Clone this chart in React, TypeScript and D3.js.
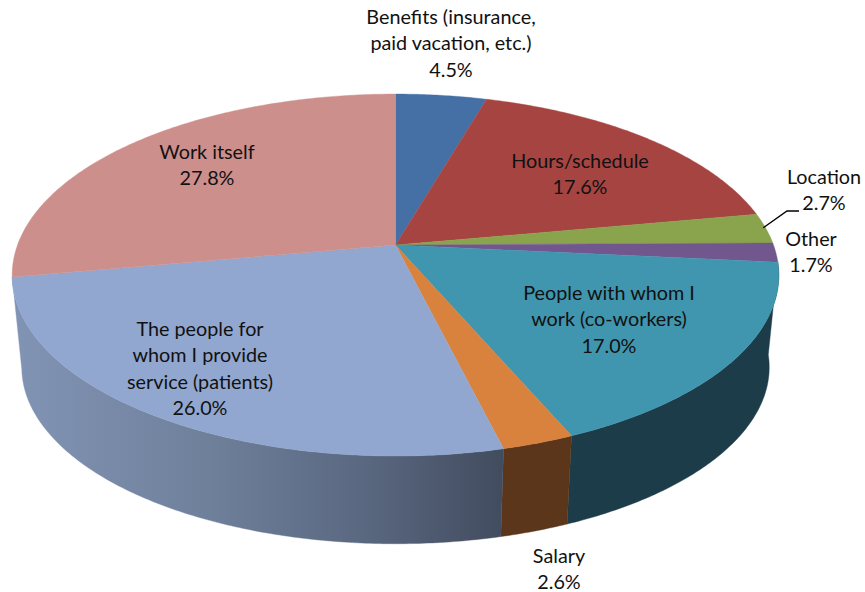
import * as d3 from "d3";

const categories = [
  "Benefits (insurance, paid vacation, etc.)",
  "Hours/schedule",
  "Location",
  "Other",
  "People with whom I work (co-workers)",
  "Salary",
  "The people for whom I provide service (patients)",
  "Work itself",
];
const shares = [4.5, 17.6, 2.7, 1.7, 17.0, 2.6, 26.0, 27.8];
const topColors = ["#4570a5", "#a64442", "#89a44d", "#71578e", "#4096ae", "#d8823d", "#91a7cf", "#cd8f8c"];

// how each label is broken up and where it sits (centre x, first baseline)
const labelLines = [
  ["Benefits (insurance,", "paid vacation, etc.)"],
  ["Hours/schedule"],
  ["Location"],
  ["Other"],
  ["People with whom I", "work (co-workers)"],
  ["Salary"],
  ["The people for", "whom I provide", "service (patients)"],
  ["Work itself"],
];
const labelX = [451, 580, 824, 811, 609, 559, 200, 207];
const labelY = [24, 168, 184, 246, 300, 563, 336, 159];

const width = 865;
const height = 592;
const lineGap = 26.3;

// perspective of the tilted disc
const cx = 395.5;
const topY = 245;
const bottomY = 338;
const rx = 378;
const ry = 176;
const persp = 0.166;
const bottomScale = 0.975;

const project = (angle: number, yc: number, s: number): [number, number] => {
  const X = Math.sin(angle);
  const Y = Math.cos(angle);
  const w = 1 + persp * Y;
  return [cx + (s * rx * X) / w, yc - (s * ry * Y) / w];
};

const rimAngles = (a0: number, a1: number) => {
  const n = Math.max(2, Math.ceil((a1 - a0) / 0.01));
  return d3.range(n + 1).map((i) => a0 + ((a1 - a0) * i) / n);
};

const line = d3.line<[number, number]>();

const pieGen = d3
  .pie<number>()
  .value((d) => d)
  .sort(null);

const App = () => {
  const slices = pieGen(shares);

  const topPath = (a0: number, a1: number) =>
    line([[cx, topY], ...rimAngles(a0, a1).map((a) => project(a, topY, 1))]) + "Z";

  const wallPath = (a0: number, a1: number) => {
    const angles = rimAngles(a0, a1);
    return (
      line([
        ...angles.map((a) => project(a, topY, 1)),
        ...angles.reverse().map((a) => project(a, bottomY, bottomScale)),
      ]) + "Z"
    );
  };

  // only these slices show a wall to the viewer
  const walls = [
    { i: 4, fill: "#1b3c48" },
    { i: 5, fill: "#5c361a" },
    { i: 6, fill: "url(#wallBlue)" },
  ];

  return (
    <svg
      width={width}
      height={height}
      style={{ position: "absolute", left: 0, top: 0, background: "#fff" }}
      fontFamily="Lato, sans-serif"
      fontSize={19.8}
      fill="#111"
    >
      <defs>
        <linearGradient id="wallBlue" gradientUnits="userSpaceOnUse" x1={12} y1={0} x2={503} y2={0}>
          <stop offset="0" stopColor="#8294b5" />
          <stop offset="0.4" stopColor="#6f809b" />
          <stop offset="0.7" stopColor="#5b6982" />
          <stop offset="1" stopColor="#424c5f" />
        </linearGradient>
      </defs>

      {walls.map(({ i, fill }) => (
        <path key={i} d={wallPath(slices[i].startAngle, slices[i].endAngle)} fill={fill} stroke={fill} strokeWidth={0.4} />
      ))}

      {slices.map((s, i) => (
        <path key={categories[i]} d={topPath(s.startAngle, s.endAngle)} fill={topColors[i]} stroke={topColors[i]} strokeWidth={0.4} />
      ))}

      {/* leader line for Location */}
      <path d="M763.3,227.7L787,211L799,211" fill="none" stroke="#000" strokeWidth={1.4} />

      {categories.map((c, i) => {
        const lines = [...labelLines[i], shares[i].toFixed(1) + "%"];
        return (
          <text key={c} textAnchor="middle">
            {lines.map((t, j) => (
              <tspan key={j} x={labelX[i]} y={labelY[i] + j * lineGap}>
                {t}
              </tspan>
            ))}
          </text>
        );
      })}
    </svg>
  );
};

export default App;
